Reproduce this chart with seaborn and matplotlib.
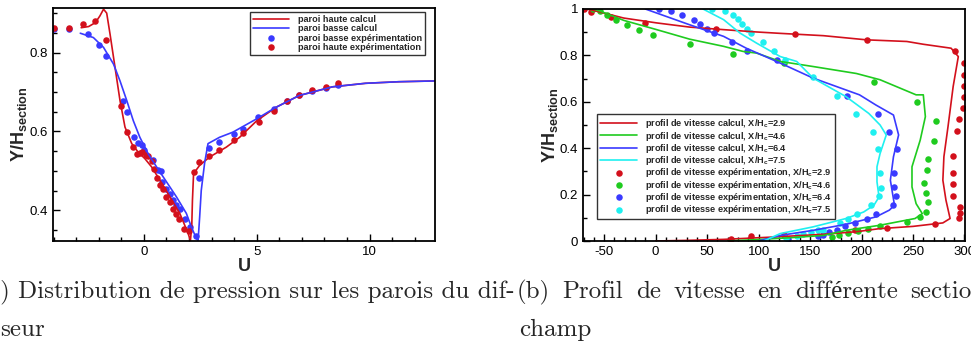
import numpy as np
import matplotlib
matplotlib.use("Agg")
import matplotlib.pyplot as plt
import seaborn as sns
from matplotlib.ticker import MultipleLocator

# couleurs des courbes
RED = '#D3101C'
BLUE = '#3A3AFF'
GREEN = '#1FCB1F'
CYAN = '#1FF0F0'

# --- (a) distribution de pression ---
haute_calc_x = [-2.78, -2.45, -2.15, -1.95, -1.79, -1.65, -1.5, -1.28, -1.06, -0.84, -0.54, -0.25, 0.04, 0.34,
                0.71, 1.15, 1.59, 1.96, 2.06, 2.12, 2.15, 2.2, 2.47, 2.91, 3.65, 4.24, 5.0, 5.85, 6.88, 8.35,
                9.82, 11.3, 12.9]
haute_calc_y = [0.863, 0.866, 0.876, 0.893, 0.910, 0.900, 0.846, 0.762, 0.678, 0.611, 0.569, 0.547, 0.531, 0.510,
                0.476, 0.434, 0.392, 0.341, 0.323, 0.360, 0.425, 0.493, 0.514, 0.535, 0.560, 0.585, 0.627, 0.661,
                0.691, 0.713, 0.722, 0.726, 0.728]
basse_calc_x = [-2.82, -2.24, -1.79, -1.35, -1.06, -0.76, -0.47, -0.18, 0.19, 0.56, 1.0, 1.44, 1.88, 2.1, 2.32,
                2.4, 2.47, 2.54, 2.69, 2.84, 3.35, 3.94, 5.0, 5.85, 6.88, 8.35, 9.82, 11.3, 12.9]
basse_calc_y = [0.849, 0.838, 0.813, 0.771, 0.728, 0.678, 0.627, 0.585, 0.543, 0.510, 0.472, 0.434, 0.392, 0.358,
                0.329, 0.323, 0.383, 0.450, 0.520, 0.569, 0.585, 0.598, 0.632, 0.661, 0.691, 0.713, 0.722, 0.726,
                0.728]
basse_exp_x = [-4.0, -3.34, -2.46, -1.99, -1.68, -0.91, -0.74, -0.44, -0.25, -0.07, 0.0, 0.41, 0.63, 0.75, 0.82,
               1.0, 1.15, 1.29, 1.44, 1.59, 1.81, 2.03, 2.29, 2.44, 2.88, 3.31, 3.99, 4.38, 5.04, 5.75, 6.32,
               6.88, 7.47, 8.06, 8.62]
basse_exp_y = [0.861, 0.859, 0.846, 0.819, 0.790, 0.676, 0.650, 0.587, 0.570, 0.566, 0.552, 0.528, 0.501, 0.499,
               0.472, 0.455, 0.441, 0.427, 0.413, 0.404, 0.377, 0.358, 0.334, 0.483, 0.558, 0.574, 0.594, 0.606,
               0.636, 0.657, 0.676, 0.693, 0.703, 0.710, 0.718]
haute_exp_x = [-4.0, -3.34, -2.72, -2.19, -1.68, -1.01, -0.74, -0.47, -0.29, -0.18, -0.1, 0.07, 0.19, 0.34, 0.44,
               0.56, 0.71, 0.85, 1.0, 1.15, 1.29, 1.44, 1.56, 1.78, 2.0, 2.24, 2.44, 2.88, 3.31, 3.99, 4.41, 5.09,
               5.76, 6.32, 6.88, 7.47, 8.06, 8.62]
haute_exp_y = [0.863, 0.863, 0.872, 0.880, 0.831, 0.665, 0.598, 0.560, 0.543, 0.545, 0.547, 0.539, 0.537, 0.525,
               0.505, 0.482, 0.465, 0.454, 0.434, 0.420, 0.404, 0.390, 0.377, 0.352, 0.348, 0.497, 0.522, 0.537,
               0.554, 0.579, 0.596, 0.623, 0.653, 0.676, 0.693, 0.705, 0.713, 0.722]

# --- (b) profils de vitesse ---
calc29_u = [-66, -31, 1, 33, 66, 98, 121, 163, 205, 244, 260, 287, 294, 289, 284, 280, 279, 282, 286, 279, 250,
            217, 195, 163, 114, 66, 33, 0]
calc29_y = [1.0, 0.961, 0.940, 0.922, 0.911, 0.901, 0.895, 0.885, 0.867, 0.860, 0.848, 0.831, 0.795, 0.666,
            0.493, 0.363, 0.262, 0.176, 0.097, 0.078, 0.063, 0.053, 0.040, 0.029, 0.017, 0.007, 0.003, 0.0]
calc46_u = [-60, -54, -31, 1, 33, 66, 85, 98, 121, 153, 195, 218, 253, 260, 262, 257, 249, 249, 253, 259, 252,
            218, 185, 163, 130, 98, 70]
calc46_y = [1.0, 0.991, 0.951, 0.911, 0.870, 0.839, 0.817, 0.810, 0.774, 0.752, 0.722, 0.695, 0.630, 0.630,
            0.536, 0.435, 0.320, 0.233, 0.161, 0.118, 0.097, 0.068, 0.046, 0.024, 0.014, 0.006, 0.0]
calc64_u = [-10, 33, 66, 88, 121, 153, 198, 214, 231, 236, 231, 228, 232, 227, 214, 185, 153, 121, 100]
calc64_y = [1.0, 0.932, 0.882, 0.831, 0.767, 0.702, 0.630, 0.586, 0.543, 0.457, 0.363, 0.262, 0.154, 0.133,
            0.104, 0.072, 0.046, 0.024, 0.0]
calc75_u = [46, 66, 82, 98, 121, 137, 153, 185, 207, 218, 224, 218, 215, 215, 217, 212, 202, 185, 153, 121, 105]
calc75_y = [1.0, 0.954, 0.896, 0.853, 0.795, 0.774, 0.702, 0.622, 0.550, 0.500, 0.457, 0.377, 0.320, 0.255,
            0.190, 0.154, 0.125, 0.097, 0.061, 0.032, 0.0]

exp29_u = [-70, -63, -43, -10, 59, 135, 205, 291, 300, 300, 300, 300, 299, 295, 293, 289, 289, 289, 289, 296,
           296, 295, 271, 225, 194, 125, 93, 73]
exp29_y = [1.0, 0.987, 0.965, 0.939, 0.915, 0.892, 0.867, 0.817, 0.767, 0.716, 0.669, 0.620, 0.572, 0.524,
           0.474, 0.367, 0.294, 0.246, 0.196, 0.147, 0.122, 0.097, 0.072, 0.058, 0.049, 0.026, 0.020, 0.009]
exp46_u = [-61, -54, -47, -39, -28, -16, -3, 33, 75, 125, 212, 254, 272, 270, 265, 264, 261, 263, 265, 263, 257,
           244, 218, 206, 197, 187, 178, 171]
exp46_y = [1.0, 0.993, 0.973, 0.951, 0.932, 0.909, 0.889, 0.849, 0.807, 0.767, 0.684, 0.601, 0.517, 0.432,
           0.352, 0.308, 0.248, 0.207, 0.166, 0.125, 0.104, 0.082, 0.063, 0.050, 0.043, 0.033, 0.026, 0.019]
exp64_u = [3.6, 15, 26, 37, 43, 50, 57, 74, 89, 118, 186, 216, 227, 234, 232, 232, 233, 231, 214, 205, 194, 184,
           176, 168, 163, 158, 129]
exp64_y = [1.0, 0.993, 0.974, 0.954, 0.937, 0.915, 0.896, 0.857, 0.820, 0.781, 0.625, 0.548, 0.471, 0.395,
           0.291, 0.231, 0.193, 0.154, 0.118, 0.094, 0.078, 0.063, 0.049, 0.037, 0.026, 0.022, 0.009]
exp75_u = [55, 67, 75, 80, 84, 89, 93, 104, 115, 126, 153, 176, 195, 211, 216, 218, 219, 217, 209, 196, 187, 179,
           163, 158, 151, 143, 137, 127]
exp75_y = [1.0, 0.993, 0.976, 0.957, 0.937, 0.915, 0.896, 0.857, 0.820, 0.781, 0.705, 0.625, 0.548, 0.471,
           0.395, 0.291, 0.229, 0.193, 0.154, 0.118, 0.094, 0.078, 0.046, 0.047, 0.037, 0.029, 0.022, 0.014]

cases = ['2.9', '4.6', '6.4', '7.5']
calc_u = [calc29_u, calc46_u, calc64_u, calc75_u]
calc_y = [calc29_y, calc46_y, calc64_y, calc75_y]
exp_u = [exp29_u, exp46_u, exp64_u, exp75_u]
exp_y = [exp29_y, exp46_y, exp64_y, exp75_y]
case_colors = [RED, GREEN, BLUE, CYAN]

# texte des légendes de sous-figures
caption_a = ['(a) Distribution de pression sur les parois du dif-', 'seur']
caption_b_words = ['(b)', 'Profil', 'de', 'vitesse', 'en', 'différente', 'sections']
caption_b_line2 = 'champ'

sns.set_style("ticks")
plt.rcParams['font.family'] = ['Liberation Sans', 'DejaVu Sans']
plt.rcParams['mathtext.fontset'] = 'custom'
plt.rcParams['mathtext.rm'] = 'Liberation Sans'
plt.rcParams['mathtext.bf'] = 'Liberation Sans:bold'


def style_axes(ax):
    for s in ax.spines.values():
        s.set_linewidth(1.3)
        s.set_color('black')
    ax.tick_params(which='both', direction='in', top=False, right=False, labelsize=9.5,
                   colors='black', width=1.0)
    ax.tick_params(which='major', length=5)
    ax.tick_params(which='minor', length=3)


fig = plt.figure(figsize=(9.71, 3.49), dpi=100)
W, H = 971, 349
ax1 = fig.add_axes([53 / W, 1 - 241 / H, 382 / W, 233 / H])
ax2 = fig.add_axes([583 / W, 1 - 241 / H, 382 / W, 232 / H])

leg_kw = dict(prop={'weight': 'bold', 'size': 6.6}, frameon=True, fancybox=False, edgecolor='black',
              handlelength=4.0, borderpad=0.35, handletextpad=0.9, borderaxespad=0)

# panneau (a)
lw = 1.2
sns.lineplot(x=haute_calc_x, y=haute_calc_y, sort=False, estimator=None, color=RED, lw=lw,
             label='paroi haute calcul', ax=ax1)
sns.lineplot(x=basse_calc_x, y=basse_calc_y, sort=False, estimator=None, color=BLUE, lw=lw,
             label='paroi basse calcul', ax=ax1)
sns.scatterplot(x=basse_exp_x, y=basse_exp_y, color=BLUE, s=22, linewidth=0,
                label='paroi basse expérimentation', ax=ax1)
sns.scatterplot(x=haute_exp_x, y=haute_exp_y, color=RED, s=22, linewidth=0,
                label='paroi haute expérimentation', ax=ax1)
ax1.set_xlim(-4.03, 12.9)
ax1.set_ylim(0.322, 0.913)
ax1.xaxis.set_major_locator(MultipleLocator(5))
ax1.xaxis.set_minor_locator(MultipleLocator(1))
ax1.yaxis.set_major_locator(MultipleLocator(0.2))
ax1.yaxis.set_minor_locator(MultipleLocator(0.05))
ax1.yaxis.set_major_formatter(plt.FuncFormatter(lambda v, _: f'{v:.1f}'))
style_axes(ax1)
ax1.set_xlabel('U', fontsize=13, fontweight='bold', labelpad=0)
ax1.set_ylabel(r'Y/H$_{\mathbf{section}}$', fontsize=13, fontweight='bold')
ax1.yaxis.set_label_coords(-0.064, 0.5)
leg1 = ax1.legend(loc='upper right', bbox_to_anchor=(0.974, 0.983), labelspacing=0.02, **leg_kw)
leg1.get_frame().set_linewidth(1.0)

# panneau (b)
for c, cu, cy, col in zip(cases, calc_u, calc_y, case_colors):
    sns.lineplot(x=cu, y=cy, sort=False, estimator=None, color=col, lw=lw,
                 label=r'profil de vitesse calcul, X/H$_\mathbf{c}$=' + c, ax=ax2)
for c, eu, ey, col in zip(cases, exp_u, exp_y, case_colors):
    sns.scatterplot(x=eu, y=ey, color=col, s=22, linewidth=0,
                    label=r'profil de vitesse expérimentation, X/H$_\mathbf{c}$=' + c, ax=ax2)
ax2.set_xlim(-70.6, 300.5)
ax2.set_ylim(0, 1)
ax2.xaxis.set_major_locator(MultipleLocator(50))
ax2.xaxis.set_minor_locator(MultipleLocator(10))
ax2.yaxis.set_major_locator(MultipleLocator(0.2))
ax2.yaxis.set_minor_locator(MultipleLocator(0.1))
ax2.yaxis.set_major_formatter(plt.FuncFormatter(lambda v, _: f'{v:g}'))
ax2.xaxis.set_major_formatter(plt.FuncFormatter(lambda v, _: f'{v:g}'.replace('\u2212', '-')))
style_axes(ax2)
ax2.set_xlabel('U', fontsize=13, fontweight='bold', labelpad=0)
ax2.set_ylabel(r'Y/H$_{\mathbf{section}}$', fontsize=13, fontweight='bold')
ax2.yaxis.set_label_coords(-0.06, 0.5)
leg2 = ax2.legend(loc='upper left', bbox_to_anchor=(0.037, 0.547), labelspacing=-0.08, **leg_kw)
leg2.get_frame().set_linewidth(1.0)

# légendes des sous-figures (police type Computer Modern), ligne 1 de (b) justifiée
cap = dict(family=['cmr10', 'Liberation Serif'], fontsize=18, va='center')
fig.text(514 / W, 1 - 292 / H, caption_a[0], ha='right', **cap)
fig.text(0.0, 1 - 330 / H, caption_a[1], ha='left', **cap)
renderer = fig.canvas.get_renderer()
x_px = 517
for word in caption_b_words:
    t = fig.text(x_px / W, 1 - 292 / H, word, ha='left', **cap)
    x_px += t.get_window_extent(renderer).width + 12.5
fig.text(519 / W, 1 - 330 / H, caption_b_line2, ha='left', **cap)

fig.savefig('out.png', dpi=100)
